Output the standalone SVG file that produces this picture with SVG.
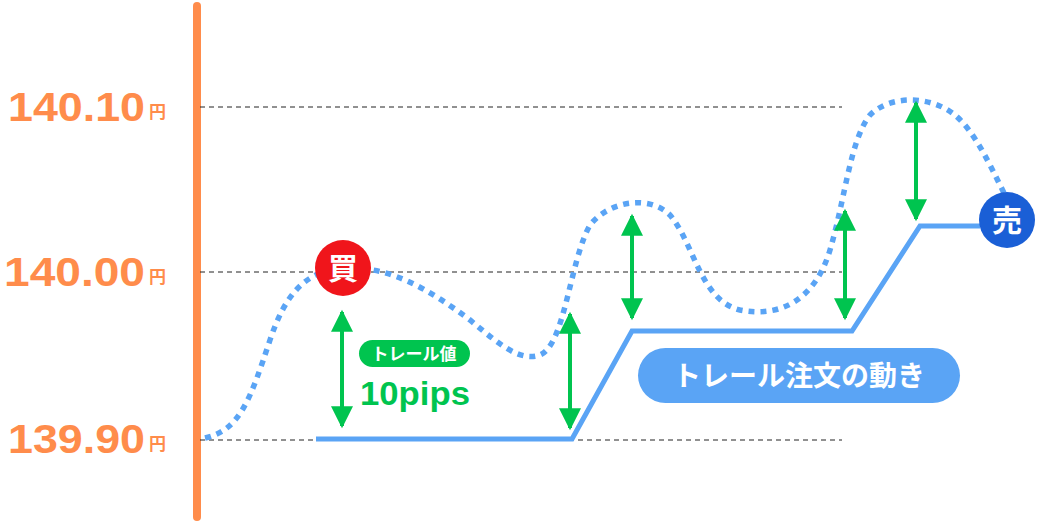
<svg xmlns="http://www.w3.org/2000/svg" width="1037" height="522" viewBox="0 0 1037 522">
<defs>
<style>
.pr{font-family:"Liberation Sans",Arial,sans-serif;font-weight:bold;fill:#ff8c4b;font-size:40px}
.yen{font-size:17px;font-family:"Noto Sans CJK JP",sans-serif;font-weight:bold;fill:#ff8c4b}
.grid{stroke:#222;stroke-width:1;stroke-dasharray:5 4}
.ar{stroke:#00c44f;stroke-width:4;marker-start:url(#ah);marker-end:url(#ah)}
.jp{font-family:"Noto Sans CJK JP",sans-serif;font-weight:bold;fill:#fff}
</style>
<marker id="ah" viewBox="0 0 10 10" refX="9" refY="5" markerWidth="6" markerHeight="5.5" orient="auto-start-reverse" markerUnits="strokeWidth"><path d="M0,0L10,5L0,10Z" fill="#00c44f"/></marker>
</defs>
<g id="axis"><line x1="197" y1="6" x2="197" y2="517" stroke="#ff8c4b" stroke-width="8" stroke-linecap="round"/></g>
<g id="labels">
<text class="pr" x="8" y="121" textLength="137" lengthAdjust="spacingAndGlyphs">140.10</text><text class="yen" x="149" y="118">円</text>
<text class="pr" x="4" y="286" textLength="141" lengthAdjust="spacingAndGlyphs">140.00</text><text class="yen" x="149" y="283">円</text>
<text class="pr" x="8" y="453" textLength="137" lengthAdjust="spacingAndGlyphs">139.90</text><text class="yen" x="149" y="450">円</text>
</g>
<g id="grid">
<line class="grid" x1="200" y1="107" x2="842" y2="107"/>
<line class="grid" x1="200" y1="272" x2="842" y2="272"/>
<line class="grid" x1="200" y1="440" x2="842" y2="440"/>
</g>
<g id="price">
<path d="M205,438 C240,430 250,400 270,340 C285,295 305,270 345,268 C390,266 430,290 470,320 C500,345 520,362 540,355 C565,345 570,260 590,225 C610,200 650,195 670,215 C695,245 700,300 740,310 C780,318 815,300 830,250 C845,200 850,140 870,115 C890,95 930,95 955,115 C975,132 990,165 1005,195" fill="none" stroke="#5aa4f5" stroke-width="5.5" stroke-dasharray="6 6"/>
</g>
<g id="trail">
<polyline points="316,439 572,439 632,331 852,331 920,226 980,226" fill="none" stroke="#5aa4f5" stroke-width="5"/>
</g>
<g id="connectors">
<line class="ar" x1="342" y1="312" x2="342" y2="426"/>
<line class="ar" x1="570" y1="314" x2="570" y2="428"/>
<line class="ar" x1="632" y1="216" x2="632" y2="318"/>
<line class="ar" x1="845" y1="211" x2="845" y2="318"/>
<line class="ar" x1="916" y1="103" x2="916" y2="219"/>
</g>
<g id="buy"><circle cx="343" cy="268" r="28" fill="#f0151b"/><text class="jp" x="343" y="279" font-size="30" text-anchor="middle">買</text></g>
<g id="sell"><circle cx="1007" cy="220" r="28" fill="#1a5fd6"/><text class="jp" x="1007" y="231" font-size="30" text-anchor="middle">売</text></g>
<g id="trailval">
<rect x="359" y="340" width="111" height="27" rx="13.5" fill="#00c44f"/>
<text class="jp" x="414" y="360" font-size="17" text-anchor="middle">トレール値</text>
<text x="360" y="405" font-family="Liberation Sans,Arial,sans-serif" font-weight="bold" font-size="33" fill="#00c44f" textLength="110" lengthAdjust="spacingAndGlyphs">10pips</text>
</g>
<g id="legend">
<rect x="638" y="348" width="322" height="55" rx="27.5" fill="#5aa4f5"/>
<text class="jp" x="799" y="386" font-size="28" text-anchor="middle">トレール注文の動き</text>
</g>
</svg>
